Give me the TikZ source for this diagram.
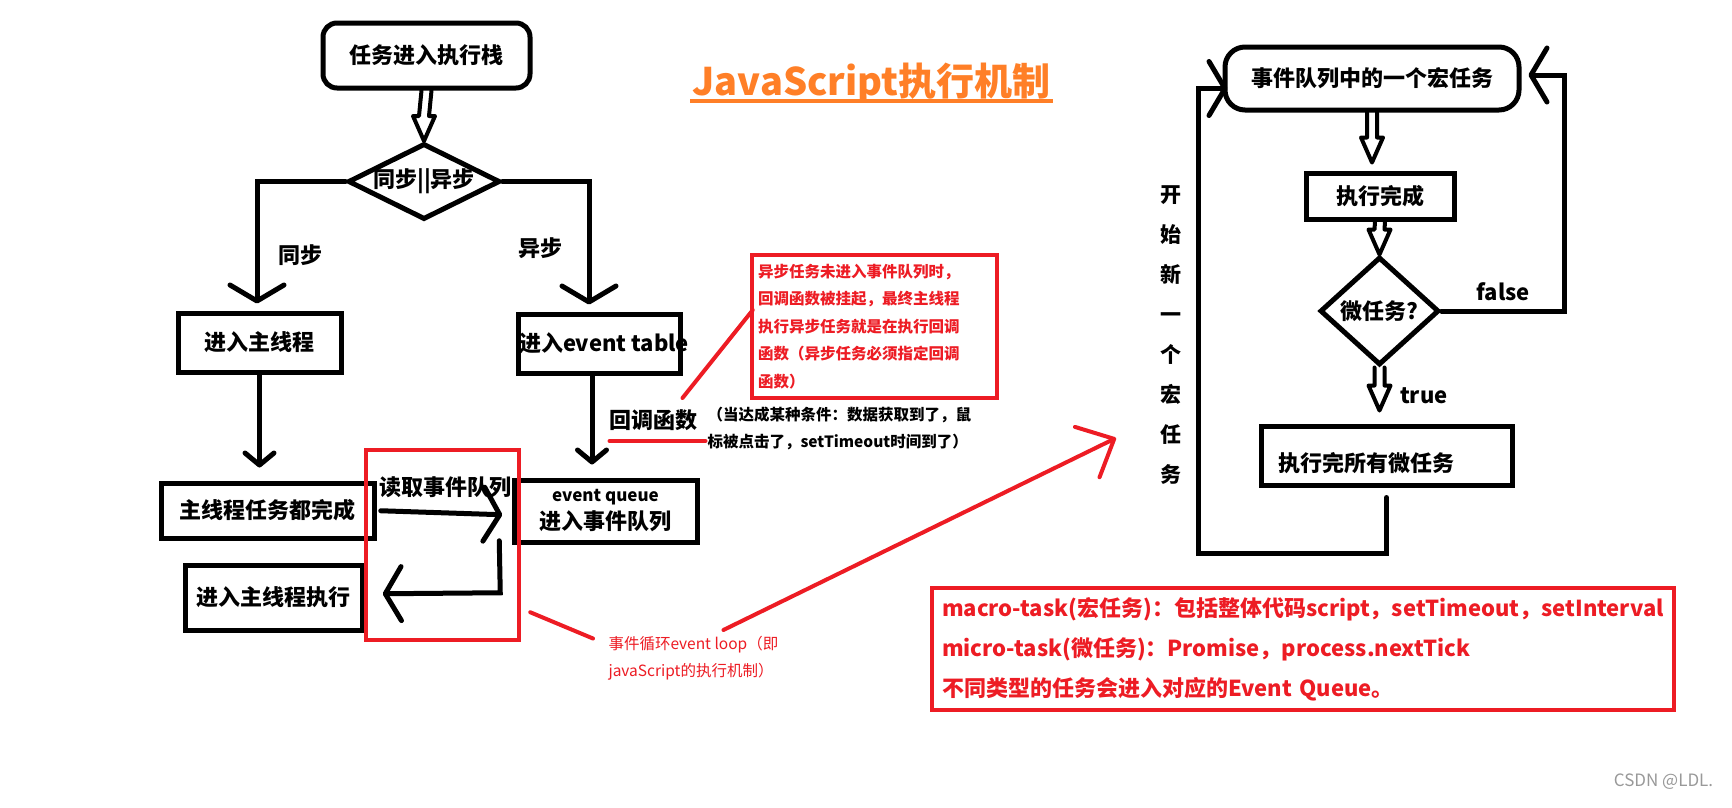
\documentclass[tikz,border=0pt]{standalone}
\usepackage{fontspec}
\setmainfont{Noto Sans CJK SC}
\usetikzlibrary{arrows.meta,shapes.geometric,positioning,calc}

\definecolor{pred}{HTML}{ED1C24}
\definecolor{porange}{HTML}{FF7F27}

% outlined block arrow, shaft open at #1, tip at #2
\newcommand{\hollowarrow}[2]{%
  \draw[hollow] ($(#1)+(-5,0)$) -- ($(#2)+(-5,-25)$) -- ($(#2)+(-11,-25)$) -- (#2)
    -- ($(#2)+(11,-25)$) -- ($(#2)+(5,-25)$) -- ($(#1)+(5,0)$);}

\begin{document}
\begin{tikzpicture}[x=1pt,y=-1pt,line width=5pt,line cap=round,
  >={Straight Barb[length=16pt,width=54pt,round]}]
   \tikzstyle{every node}=[inner sep=0pt,font=\fontsize{22}{26}\selectfont\bfseries]
   \tikzstyle{box}=[draw,rectangle]
   \tikzstyle{decision}=[draw,diamond]
   \tikzstyle{hollow}=[draw,line width=4pt,line join=round]
   \tikzstyle{smallarrow}=[-{Straight Barb[length=12pt,width=29pt,round]}]
   \tikzstyle{redbox}=[draw=pred,line width=4.5pt,text=pred]
   \tikzstyle{redline}=[draw=pred,line width=4pt]
   \tikzstyle{smalltext}=[font=\fontsize{15.5}{27.5}\selectfont\bfseries]

   \fill[white] (0,0) rectangle (1732,807);
   \useasboundingbox (0,0) rectangle (1732,807);

   % left flow
   \node[box,rounded corners=14pt,minimum width=207pt,minimum height=65pt] (stack) at (426.5,55.5) {任务进入执行栈};
   \node[decision,aspect=2,minimum width=149pt,minimum height=75pt] (sync) at (424,181.5) {同步||异步};
   \node[box,minimum width=163pt,minimum height=59pt] (mainth) at (259.5,342.5) {进入主线程};
   \node[box,minimum width=162pt,minimum height=59pt,label={[xshift=5pt]center:进入event table}] (table) at (599,343.5) {};
   \node[box,minimum width=213pt,minimum height=55pt] (done) at (267.5,510.5) {主线程任务都完成};
   \node[box,minimum width=177pt,minimum height=65pt] (run) at (273.5,597.5) {进入主线程执行};
   \node[box,minimum width=183pt,minimum height=62pt,align=center] (queue) at (605.5,511)
     {{\fontsize{17}{17}\selectfont event queue}\\[2pt]进入事件队列};
   \node[redbox,minimum width=153pt,minimum height=190pt] (loopbox) at (442.5,545) {};
   \node (readq) [below=26pt of loopbox.north, xshift=3pt] {读取事件队列};

   \hollowarrow{stack.south}{sync.north}
   \draw[->] (sync.west) -| node[pos=0.8,right=19pt] {同步} ([xshift=-2.5pt,yshift=7pt]mainth.north);
   \draw[->] (sync.east) -| node[pos=0.77,left=24pt] {异步} ([xshift=-10pt,yshift=7pt]table.north);
   \draw[smallarrow,shorten >=13pt] (mainth.south) -- (mainth.south |- done.north);
   \draw[smallarrow,shorten >=13pt] ([xshift=-7pt]table.south) -- ([xshift=-7pt]table.south |- queue.north);

   % event loop
   \coordinate (fetchs) at ($(loopbox.north west)+(17,63)$);
   \coordinate (fetche) at ($(loopbox.north east)+(-19,67)$);
   \coordinate (backs) at ($(loopbox.north east)+(-22,93)$);
   \coordinate (backm) at ($(loopbox.north east)+(-21,145)$);
   \coordinate (backe) at ($(loopbox.north west)+(19,146)$);
   \draw[->] (fetchs) -- (fetche);
   \draw[->] (backs) -- (backm) -- (backe);

   % callback notes
   \node (cb) at (653,420) {回调函数};
   \node[smalltext,anchor=west,align=left] (cbnote) at (705,428.5)
     {（当达成某种条件：数据获取到了，鼠\\标被点击了，setTimeout时间到了）};
   \node[redbox,smalltext,minimum width=245pt,minimum height=143pt,text width=233pt,inner xsep=6pt,align=left] (note) at (874.5,326.5)
     {异步任务未进入事件队列时，\\回调函数被挂起，最终主线程\\执行异步任务就是在执行回调\\函数（异步任务必须指定回调\\函数）};
   \draw[redline] ([xshift=-17pt,yshift=9pt]cb.north east) -- ([xshift=3pt,yshift=16.5pt]note.west);
   \draw[redline] ([xshift=3pt,yshift=-8pt]cb.south west) -- ([xshift=6pt,yshift=-8pt]cb.south east);

   \node[text=pred,anchor=west,align=left,font=\fontsize{15.5}{27}\selectfont\mdseries] (looplbl) at (606,658.5)
     {事件循环event loop（即\\javaScript的执行机制）};
   \draw[redline] ([xshift=9pt,yshift=30pt]loopbox.south east) -- ([xshift=-13pt,yshift=20pt]looplbl.west);
   \coordinate (redtip) at (1116,438);
   \draw[redline,->,>={Straight Barb[length=30pt,width=56pt,round]}] ([xshift=30pt,yshift=4pt]looplbl.north) -- (redtip);

   % title
   \node[text=porange,font=\fontsize{38}{40}\selectfont\bfseries] (title) at (871.5,83) {JavaScript执行机制};
   \draw[porange,line width=4pt,line cap=butt] ([yshift=-6pt]title.base west) -- ([yshift=-6pt]title.base east);

   % right flow
   \node[box,rounded corners=20pt,minimum width=294pt,minimum height=63pt] (macro) at (1372,78.5) {事件队列中的一个宏任务};
   \node[box,minimum width=148pt,minimum height=46pt] (exec) at (1380,196) {执行完成};
   \node[decision,minimum width=119pt,minimum height=108pt] (micro) at (1379.5,311) {微任务?};
   \node[box,minimum width=251pt,minimum height=59pt,label={[xshift=-20pt,yshift=-8pt]center:执行完所有微任务}] (allmicro) at (1386.5,455.5) {};
   \node[align=center,font=\fontsize{21}{40}\selectfont\bfseries] (newlbl) at (1171,335) {开\\始\\新\\一\\个\\宏\\任\\务};

   \path (macro.south |- exec.north) ++(0,-8) coordinate (exectip);
   \path (micro.south |- allmicro.north) ++(0,-13) coordinate (alltip);
   \hollowarrow{macro.south}{exectip}
   \hollowarrow{exec.south}{micro.north}
   \hollowarrow{micro.south}{alltip}
   \node[anchor=west] (truelbl) at ($(micro.south)+(18,28)$) {true};

   \draw[->] (micro.east) -- ++(123,0) node[midway,above=8pt] {false} |- ([xshift=7pt,yshift=3.5pt]macro.east);
   \coordinate (loopcorner) at (1198,553);
   \draw[->] ([yshift=-10pt]allmicro.south) |- (loopcorner) |- ([xshift=5pt,yshift=-10pt]macro.west);

   % task types
   \node[redbox,minimum width=742pt,minimum height=122pt,text width=722pt,inner xsep=10pt,align=left,font=\fontsize{22}{40}\selectfont\bfseries] (types) at (1303,649)
     {\mbox{macro-task(宏任务)：包括整体代码script，setTimeout，setInterval}\\\mbox{micro-task(微任务)：Promise，process.nextTick}\\不同类型的任务会进入对应的Event Queue。};

   \node[text=black!40,font=\fontsize{17}{20}\selectfont\mdseries] (wm) at (1663.5,782) {CSDN @LDL.};
\end{tikzpicture}
\end{document}
